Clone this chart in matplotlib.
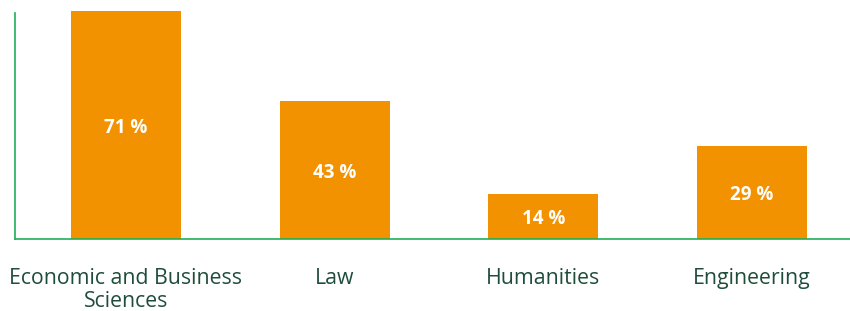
import matplotlib.pyplot as plt

categories = ['Economic and Business\nSciences', 'Law', 'Humanities', 'Engineering']
values = [71, 43, 14, 29]

bar_color = '#F39200'
axis_color = '#1DB055'
text_color = '#1E4D3B'

plt.rcParams['font.family'] = ['Open Sans', 'DejaVu Sans']

fig = plt.figure(figsize=(8.5, 3.11), dpi=100)
ax = fig.add_axes([15 / 850, 1 - 239 / 311, 1 - 15 / 850, (239 - 9) / 311])

x = range(len(categories))
bars = ax.bar(x, values, width=0.527, color=bar_color, zorder=2)
for b, v in zip(bars, values):
    ax.text(b.get_x() + b.get_width() / 2, v / 2, f'{v} %', ha='center', va='center_baseline',
            color='white', fontsize=13.5, fontweight='bold')

ax.set_xlim(-0.532, 3.47)
ax.set_ylim(0, 71.7)
ax.set_xticks(list(x))
ax.set_xticklabels(categories, color=text_color, fontsize=15.3, linespacing=1.1)
ax.tick_params(axis='x', length=0, pad=21)
ax.set_yticks([])

for side in ['top', 'right']:
    ax.spines[side].set_visible(False)
for side in ['left', 'bottom']:
    ax.spines[side].set_color(axis_color)
    ax.spines[side].set_linewidth(1.2)
ax.spines['left'].set_bounds(0, 70.4)

fig.savefig('out.png', dpi=100)
